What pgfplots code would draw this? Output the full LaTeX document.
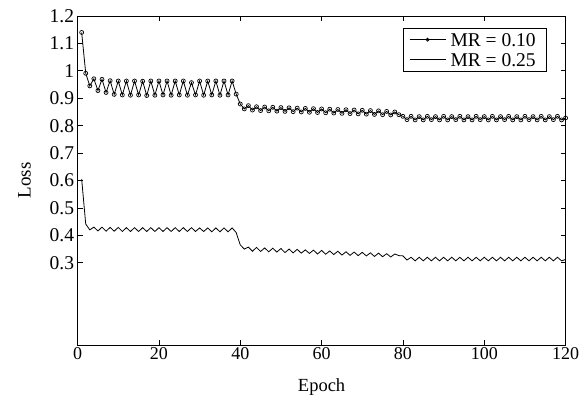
\documentclass[border=0pt]{standalone}
\usepackage{fontspec}
\setmainfont{Liberation Serif}
\usepackage{pgfplots}
\pgfplotsset{compat=1.18}
\begin{document}
\begin{tikzpicture}
\path[use as bounding box] (-77.6pt,-51pt) rectangle (501.4pt,345pt);
\begin{axis}[
  scale only axis,
  width=488pt, height=329pt,
  xmin=0, xmax=120, ymin=0, ymax=1.2,
  xtick={0,20,40,60,80,100,120},
  ytick={0.3,0.4,0.5,0.6,0.7,0.8,0.9,1,1.1,1.2},
  tick align=inside,
  major tick length=5pt,
  axis line style={line width=0.9pt},
  every tick/.style={line width=0.8pt, black},
  /pgf/number format/assume math mode=true,
  xticklabel style={font=\fontsize{18}{20}\selectfont, inner sep=2pt},
  yticklabel style={font=\fontsize{19.5}{21}\selectfont},
  xlabel={Epoch}, ylabel={Loss},
  xlabel style={font=\fontsize{18.5}{20}\selectfont, at={(axis description cs:0.5,-0.142)}, anchor=base},
  ylabel style={font=\fontsize{19}{21}\selectfont, at={(axis description cs:-0.109,0.5)}, anchor=center},
  legend style={at={(0.961,0.964)}, anchor=north east, draw=black, line width=0.7pt,
    font=\fontsize{19.5}{21}\selectfont, inner xsep=6pt, inner ysep=3pt,
    nodes={inner xsep=4.5pt, inner ysep=1pt, text depth=1pt, text height=14pt}, row sep=3pt},
  legend cell align=left,
  legend image code/.code={\draw[mark repeat=2,mark phase=2,#1,mark options={fill=black,scale=0.75}] plot coordinates {(0pt,0pt) (18pt,0pt) (36pt,0pt)};},
]
\addplot[black, line width=0.8pt, mark=o, mark size=2pt, mark options={fill=white, line width=0.7pt}] coordinates {
(1,1.140) (2,0.991) (3,0.945) (4,0.971) (5,0.928) (6,0.969) (7,0.921) (8,0.964) (9,0.914) (10,0.963)
(11,0.912) (12,0.963) (13,0.911) (14,0.963) (15,0.912) (16,0.962) (17,0.910) (18,0.963) (19,0.911) (20,0.963)
(21,0.912) (22,0.963) (23,0.911) (24,0.963) (25,0.912) (26,0.963) (27,0.911) (28,0.957) (29,0.912) (30,0.963)
(31,0.911) (32,0.963) (33,0.912) (34,0.963) (35,0.911) (36,0.963) (37,0.912) (38,0.963) (39,0.915) (40,0.879)
(41,0.861) (42,0.873) (43,0.857) (44,0.869) (45,0.855) (46,0.868) (47,0.854) (48,0.867) (49,0.853) (50,0.866)
(51,0.852) (52,0.865) (53,0.851) (54,0.864) (55,0.850) (56,0.863) (57,0.849) (58,0.862) (59,0.848) (60,0.861)
(61,0.847) (62,0.860) (63,0.846) (64,0.859) (65,0.845) (66,0.858) (67,0.844) (68,0.857) (69,0.843) (70,0.856)
(71,0.842) (72,0.855) (73,0.841) (74,0.854) (75,0.840) (76,0.852) (77,0.839) (78,0.850) (79,0.840) (80,0.834)
(81,0.822) (82,0.834) (83,0.821) (84,0.833) (85,0.821) (86,0.834) (87,0.822) (88,0.833) (89,0.821) (90,0.834)
(91,0.821) (92,0.833) (93,0.822) (94,0.834) (95,0.821) (96,0.833) (97,0.821) (98,0.834) (99,0.822) (100,0.833)
(101,0.821) (102,0.834) (103,0.821) (104,0.833) (105,0.822) (106,0.834) (107,0.821) (108,0.833) (109,0.821) (110,0.834)
(111,0.822) (112,0.833) (113,0.821) (114,0.834) (115,0.821) (116,0.833) (117,0.822) (118,0.834) (119,0.821) (120,0.828)
};
\addlegendentry{MR = 0.10}
\addplot[black, line width=0.8pt, mark=none] coordinates {
(1,0.605) (2,0.441) (3,0.420) (4,0.430) (5,0.416) (6,0.430) (7,0.415) (8,0.429) (9,0.415) (10,0.429)
(11,0.414) (12,0.428) (13,0.414) (14,0.428) (15,0.414) (16,0.428) (17,0.414) (18,0.428) (19,0.414) (20,0.428)
(21,0.414) (22,0.428) (23,0.414) (24,0.428) (25,0.414) (26,0.428) (27,0.414) (28,0.428) (29,0.414) (30,0.427)
(31,0.414) (32,0.427) (33,0.413) (34,0.427) (35,0.413) (36,0.427) (37,0.413) (38,0.427) (39,0.410) (40,0.365)
(41,0.350) (42,0.357) (43,0.342) (44,0.356) (45,0.341) (46,0.354) (47,0.340) (48,0.353) (49,0.339) (50,0.352)
(51,0.337) (52,0.350) (53,0.336) (54,0.349) (55,0.335) (56,0.347) (57,0.334) (58,0.346) (59,0.332) (60,0.345)
(61,0.331) (62,0.343) (63,0.330) (64,0.342) (65,0.328) (66,0.340) (67,0.327) (68,0.339) (69,0.326) (70,0.338)
(71,0.325) (72,0.336) (73,0.323) (74,0.335) (75,0.322) (76,0.333) (77,0.321) (78,0.332) (79,0.326) (80,0.325)
(81,0.310) (82,0.320) (83,0.307) (84,0.320) (85,0.307) (86,0.320) (87,0.307) (88,0.320) (89,0.307) (90,0.320)
(91,0.307) (92,0.320) (93,0.307) (94,0.320) (95,0.307) (96,0.320) (97,0.307) (98,0.320) (99,0.307) (100,0.320)
(101,0.307) (102,0.320) (103,0.307) (104,0.320) (105,0.307) (106,0.320) (107,0.307) (108,0.320) (109,0.307) (110,0.320)
(111,0.307) (112,0.320) (113,0.307) (114,0.320) (115,0.307) (116,0.320) (117,0.307) (118,0.320) (119,0.307) (120,0.312)
};
\addlegendentry{MR = 0.25}
\end{axis}
\end{tikzpicture}
\end{document}
